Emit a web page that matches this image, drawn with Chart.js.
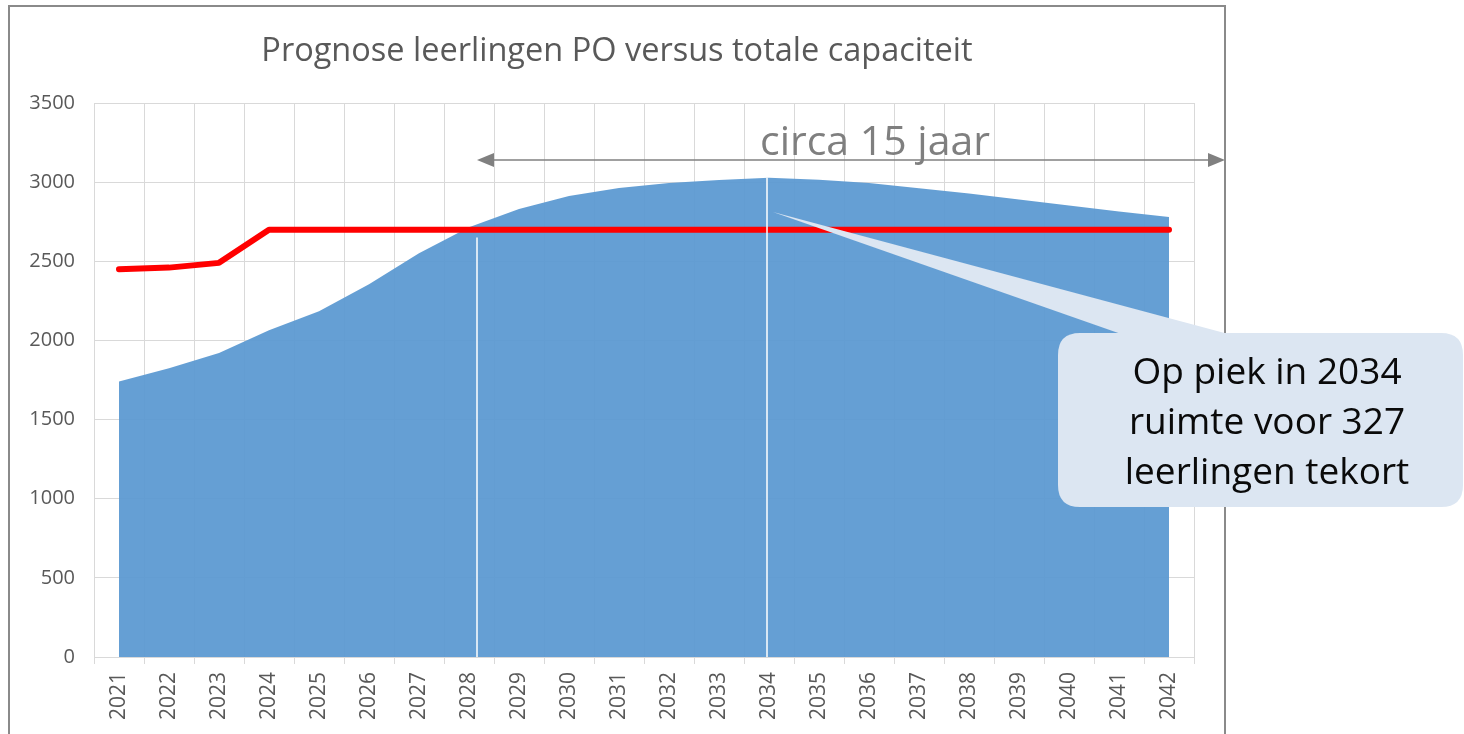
<!DOCTYPE html>
<html>
<head>
<meta charset="utf-8">
<script src="https://cdn.jsdelivr.net/npm/chart.js@4"></script>
<style>
  html, body { margin: 0; padding: 0; background: #ffffff; }
  #wrap { position: relative; width: 1464px; height: 734px; }
</style>
</head>
<body>
<div id="wrap"><canvas id="c"></canvas></div>
<script>
// ---- data ----
const years = ['2021','2022','2023','2024','2025','2026','2027','2028','2029','2030','2031',
               '2032','2033','2034','2035','2036','2037','2038','2039','2040','2041','2042'];
const leerlingen = [1740,1825,1920,2065,2185,2355,2550,2715,2830,2912,2963,
                    2995,3014,3027,3015,2995,2962,2928,2890,2853,2815,2780];
const capaciteit = [2450,2460,2490,2700,2700,2700,2700,2700,2700,2700,2700,
                    2700,2700,2700,2700,2700,2700,2700,2700,2700,2700,2700];
const yTickMin = 0, yTickMax = 3500, yTickStep = 500;
const titleText = 'Prognose leerlingen PO versus totale capaciteit';
const spanLabel = 'circa 15 jaar';
const calloutLines = ['Op piek in 2034', 'ruimte voor 327', 'leerlingen tekort'];

const peakIdx = leerlingen.indexOf(Math.max(...leerlingen));

const annot = {
  id: 'annot',
  afterDatasetsDraw(chart) {
    const { ctx, scales: { x, y } } = chart;
    const y0 = y.getPixelForValue(0);
    ctx.save();
    // white marker lines
    ctx.strokeStyle = '#ffffff';
    ctx.lineWidth = 1.5;
    const xa = x.getPixelForValue(7.16);
    ctx.beginPath(); ctx.moveTo(xa, y.getPixelForValue(2650)); ctx.lineTo(xa, y0); ctx.stroke();
    const xp = x.getPixelForValue(peakIdx - 0.04);
    ctx.beginPath(); ctx.moveTo(xp, y.getPixelForValue(leerlingen[peakIdx])); ctx.lineTo(xp, y0); ctx.stroke();

    // double arrow
    const ay = y.getPixelForValue(3140);
    const xl = xa, xr = 1225;
    ctx.strokeStyle = '#808080'; ctx.fillStyle = '#808080'; ctx.lineWidth = 1.6;
    ctx.beginPath(); ctx.moveTo(xl + 12, ay); ctx.lineTo(xr - 12, ay); ctx.stroke();
    ctx.beginPath(); ctx.moveTo(xl, ay); ctx.lineTo(xl + 17, ay - 7); ctx.lineTo(xl + 17, ay + 7); ctx.closePath(); ctx.fill();
    ctx.beginPath(); ctx.moveTo(xr, ay); ctx.lineTo(xr - 17, ay - 7); ctx.lineTo(xr - 17, ay + 7); ctx.closePath(); ctx.fill();

    // span label
    ctx.fillStyle = '#7f7f7f';
    ctx.font = '41px "Open Sans"';
    ctx.textAlign = 'center';
    ctx.textBaseline = 'alphabetic';
    ctx.fillText(spanLabel, x.getPixelForValue(15.12), y.getPixelForValue(3171));
    ctx.restore();
  },
  afterDraw(chart) {
    const { ctx, scales: { x, y } } = chart;
    ctx.save();
    // outer chart border
    ctx.strokeStyle = '#8a8a8a';
    ctx.lineWidth = 2;
    ctx.strokeRect(9, 6, 1216, 760);

    // chart title, centred on the outer chart box
    ctx.fillStyle = '#595959';
    ctx.font = '32.5px "Open Sans"';
    ctx.textAlign = 'center';
    ctx.textBaseline = 'alphabetic';
    ctx.fillText(titleText, 617, 61);

    // callout
    const fill = '#dce6f2';
    const tipX = x.getPixelForValue(peakIdx + 0.08), tipY = y.getPixelForValue(2811);
    const bx = 1058, by = 333, bw = 405, bh = 174, r = 22;
    ctx.fillStyle = fill;
    ctx.beginPath();
    ctx.moveTo(tipX, tipY);
    ctx.lineTo(1232, by + 2);
    ctx.lineTo(1124, by + 2);
    ctx.closePath();
    ctx.fill();
    ctx.beginPath();
    ctx.moveTo(bx + r, by);
    ctx.lineTo(bx + bw - r, by);
    ctx.quadraticCurveTo(bx + bw, by, bx + bw, by + r);
    ctx.lineTo(bx + bw, by + bh - r);
    ctx.quadraticCurveTo(bx + bw, by + bh, bx + bw - r, by + bh);
    ctx.lineTo(bx + r, by + bh);
    ctx.quadraticCurveTo(bx, by + bh, bx, by + bh - r);
    ctx.lineTo(bx, by + r);
    ctx.quadraticCurveTo(bx, by, bx + r, by);
    ctx.closePath();
    ctx.fill();

    ctx.fillStyle = '#0a0a0a';
    ctx.font = '37px "Open Sans"';
    ctx.textAlign = 'center';
    ctx.textBaseline = 'alphabetic';
    calloutLines.forEach((t, i) => ctx.fillText(t, 1267, 384 + i * 50));
    ctx.restore();
  }
};

new Chart(document.getElementById('c'), {
  type: 'line',
  data: {
    labels: years,
    datasets: [
      {
        label: 'Totale capaciteit',
        data: capaciteit,
        borderColor: '#ff0000',
        borderWidth: 6,
        borderCapStyle: 'round',
        borderJoinStyle: 'round',
        pointRadius: 0,
        fill: false,
        tension: 0,
        order: 0
      },
      {
        label: 'Prognose leerlingen PO',
        data: leerlingen,
        borderWidth: 0,
        borderColor: 'rgba(0,0,0,0)',
        backgroundColor: 'rgba(93,154,210,0.95)',
        pointRadius: 0,
        fill: 'origin',
        tension: 0,
        order: 1
      }
    ]
  },
  options: {
    responsive: true,
    maintainAspectRatio: false,
    animation: false,
    layout: { padding: { left: 0, right: 270, top: 103, bottom: 0 } },
    plugins: {
      legend: { display: false },
      tooltip: { enabled: false },
      title: { display: false }
    },
    scales: {
      x: {
        offset: true,
        grid: { offset: true, color: '#d9d9d9', lineWidth: 1, tickLength: 7, tickColor: '#d9d9d9', drawTicks: true },
        border: { display: true, color: '#d9d9d9' },
        ticks: {
          color: '#595959',
          font: { family: 'Open Sans', size: 21 },
          minRotation: 90, maxRotation: 90,
          padding: 8,
          autoSkip: false
        },
        afterFit(s) { s.height = 77; s.paddingLeft = 0; s.paddingRight = 0; }
      },
      y: {
        min: yTickMin, max: yTickMax,
        grid: { color: '#d9d9d9', lineWidth: 1, drawTicks: false },
        border: { display: false },
        ticks: {
          stepSize: yTickStep,
          color: '#595959',
          font: { family: 'Open Sans', size: 20 },
          padding: 19,
          callback: (v) => String(v)
        },
        afterFit(s) { s.width = 94; s.paddingTop = 0; s.paddingBottom = 0; }
      }
    }
  },
  plugins: [annot]
});
</script>
</body>
</html>
